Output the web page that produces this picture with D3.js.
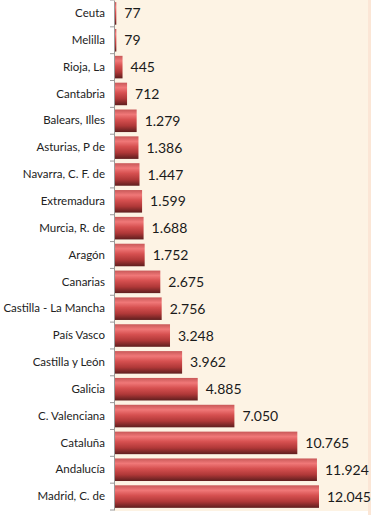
<!DOCTYPE html>
<html><head><meta charset="utf-8">
<script src="https://cdn.jsdelivr.net/npm/d3@7"></script>
<style>body{margin:0;background:#fff;}svg{display:block;}</style>
</head><body>
<script>
const categories = ["Ceuta","Melilla","Rioja, La","Cantabria","Balears, Illes","Asturias, P de","Navarra, C. F. de","Extremadura","Murcia, R. de","Aragón","Canarias","Castilla - La Mancha","País Vasco","Castilla y León","Galicia","C. Valenciana","Cataluña","Andalucía","Madrid, C. de"];
const values = [77,79,445,712,1279,1386,1447,1599,1688,1752,2675,2756,3248,3962,4885,7050,10765,11924,12045];
const valueLabels = ["77","79","445","712","1.279","1.386","1.447","1.599","1.688","1.752","2.675","2.756","3.248","3.962","4.885","7.050","10.765","11.924","12.045"];

const W=371,H=515;
const svg=d3.select("body").append("svg").attr("width",W).attr("height",H);
const defs=svg.append("defs");
const g=defs.append("linearGradient").attr("id","bg").attr("x1",0).attr("y1",0).attr("x2",0).attr("y2",1);
[[0,"#c85858"],[0.22,"#f07878"],[0.45,"#d65050"],[0.72,"#b03838"],[1,"#5e1e1e"]].forEach(s=>g.append("stop").attr("offset",s[0]).attr("stop-color",s[1]));

const x0=114, yTop=0, yBot=510;
svg.append("rect").attr("x",x0).attr("y",0).attr("width",254).attr("height",511).attr("fill","#fdf3e4");
svg.append("rect").attr("x",368).attr("y",0).attr("width",3).attr("height",515).attr("fill","#fbe6d6");

const y=d3.scaleBand().domain(categories).range([yTop,yBot]).paddingInner(0.16).paddingOuter(0.08);
const x=d3.scaleLinear().domain([0,12045]).range([x0,x0+204]);

svg.selectAll("rect.bar").data(values).join("rect").attr("class","bar")
 .attr("x",x0+1).attr("y",(d,i)=>y(categories[i])).attr("width",d=>Math.max(0.8,x(d)-x0)).attr("height",y.bandwidth())
 .attr("fill","url(#bg)");

const ax=svg.append("g").attr("transform",`translate(${x0},0)`).call(d3.axisLeft(y).tickSize(0).tickPadding(9));
ax.select(".domain").attr("stroke","#9a9a9a");
ax.selectAll("text").attr("font-family","Lato, 'Open Sans', sans-serif").attr("font-size",11.5).attr("fill","#222");
const bounds=d3.range(categories.length+1).map(i=>yTop+i*(yBot-yTop)/categories.length);
svg.selectAll("line.tk").data(bounds).join("line").attr("class","tk").attr("x1",x0-4).attr("x2",x0).attr("y1",d=>d).attr("y2",d=>d).attr("stroke","#9a9a9a");

svg.selectAll("text.val").data(values).join("text").attr("class","val")
 .attr("x",d=>x(d)+9).attr("y",(d,i)=>y(categories[i])+y.bandwidth()/2).attr("dy","0.36em")
 .attr("font-family","Lato, 'Open Sans', sans-serif").attr("font-size",14).attr("fill","#1a1a1a")
 .text((d,i)=>valueLabels[i]);
</script>
</body></html>
